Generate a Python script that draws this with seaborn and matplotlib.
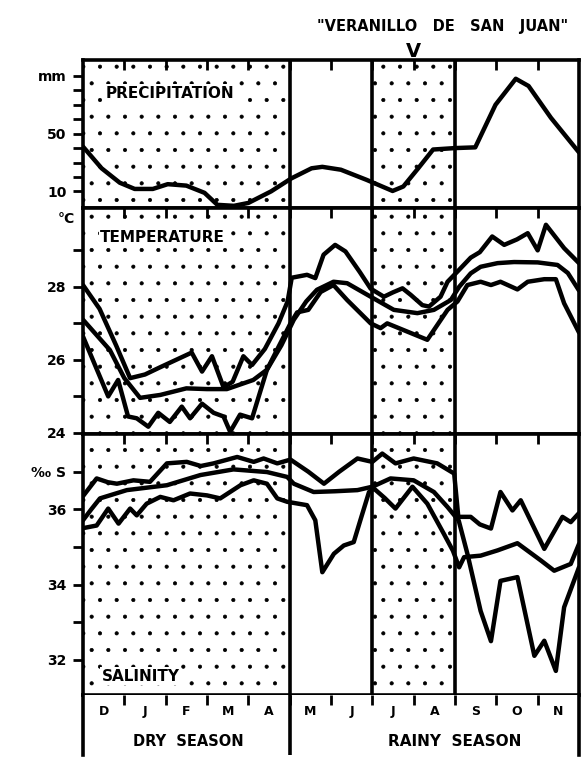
import matplotlib
matplotlib.use("Agg")
import matplotlib.pyplot as plt
import seaborn as sns

# x axis: months counted from the start of December (0) to the end of November (12)
month_letters = ["D", "J", "F", "M", "A", "M", "J", "J", "A", "S", "O", "N"]

# precipitation (mm)
precip_x = [0.0, 0.45, 0.89, 1.25, 1.69, 2.05, 2.5, 2.94, 3.25, 3.65, 4.0, 4.55, 5.04,
            5.53, 5.79, 6.24, 6.86, 7.49, 7.75, 8.11, 8.47, 9.0, 9.49, 9.98, 10.47,
            10.78, 11.32, 12.0]
precip_y = [41, 26, 16, 11.7, 11.7, 15, 14, 9, 0.7, 0, 2, 10, 19,
            26, 27, 25, 18, 10.3, 13.4, 26, 39, 40, 40.5, 70, 88,
            83, 61, 37]

# temperature (deg C)
temp_hi_x = [0.0, 0.4, 0.8, 1.14, 1.5, 1.87, 2.25, 2.63, 2.88, 3.12, 3.4, 3.62, 3.88, 4.09,
             4.4, 4.73, 4.95, 5.05, 5.42, 5.62, 5.82, 6.1, 6.35, 6.7, 6.96, 7.28, 7.5,
             7.73, 7.93, 8.21, 8.37, 8.65, 8.82, 9.06, 9.38, 9.6, 9.9, 10.19, 10.5,
             10.76, 11.0, 11.2, 11.64, 12.0]
temp_hi_y = [28.05, 27.4, 26.4, 25.5, 25.6, 25.8, 26.0, 26.2, 25.68, 26.1, 25.25, 25.4, 26.1, 25.86,
             26.3, 27.0, 27.6, 28.25, 28.33, 28.24, 28.88, 29.15, 28.97, 28.4, 27.95, 27.73, 27.85,
             27.96, 27.78, 27.5, 27.46, 27.73, 28.14, 28.42, 28.8, 28.95, 29.38, 29.15, 29.3,
             29.47, 29.0, 29.7, 29.06, 28.65]

temp_mid_x = [0.0, 0.65, 1.0, 1.38, 1.87, 2.5, 3.0, 3.48, 4.12, 4.45, 4.8, 5.1, 5.4, 5.66,
              6.06, 6.39, 6.96, 7.52, 8.09, 8.49, 8.9, 9.1, 9.38, 9.62, 10.03, 10.43, 11.0,
              11.48, 11.73, 12.0]
temp_mid_y = [27.1, 26.27, 25.5, 24.96, 25.04, 25.22, 25.2, 25.2, 25.45, 25.73, 26.4, 27.1, 27.6, 27.92,
              28.14, 28.1, 27.73, 27.37, 27.28, 27.37, 27.64, 28.0, 28.37, 28.55, 28.65, 28.68, 28.67,
              28.6, 28.38, 27.9]

temp_lo_x = [0.0, 0.61, 0.85, 1.09, 1.3, 1.58, 1.82, 2.1, 2.39, 2.59, 2.88, 3.16, 3.4, 3.56,
             3.8, 4.09, 4.45, 4.75, 5.02, 5.18, 5.45, 5.75, 6.06, 6.39, 6.96, 7.2, 7.36, 8.33,
             8.82, 9.06, 9.3, 9.62, 9.87, 10.1, 10.51, 10.76, 11.16, 11.44, 11.64, 12.0]
temp_lo_y = [26.64, 25.0, 25.45, 24.45, 24.4, 24.17, 24.55, 24.3, 24.72, 24.4, 24.8, 24.55, 24.45, 24.03,
             24.5, 24.4, 25.73, 26.4, 27.0, 27.3, 27.37, 27.86, 28.05, 27.64, 27.0, 26.87, 27.0, 26.55,
             27.37, 27.6, 28.05, 28.14, 28.05, 28.14, 27.93, 28.14, 28.21, 28.21, 27.55, 26.75]

# salinity (per mille)
sal_hi_x = [0.0, 0.33, 0.6, 0.82, 1.22, 1.62, 2.03, 2.51, 2.85, 3.16, 3.73, 4.13, 4.37, 4.7,
            5.02, 5.45, 5.83, 6.2, 6.64, 7.0, 7.24, 7.56, 8.0, 8.57, 8.98, 9.08, 9.38, 9.6,
            9.87, 10.1, 10.39, 10.59, 11.16, 11.6, 11.8, 12.0]
sal_hi_y = [36.35, 36.82, 36.72, 36.68, 36.77, 36.73, 37.22, 37.26, 37.15, 37.22, 37.39, 37.26, 37.35, 37.22,
            37.32, 37.0, 36.68, 37.0, 37.35, 37.26, 37.48, 37.22, 37.35, 37.22, 36.95, 35.8, 35.8, 35.6,
            35.49, 36.46, 35.97, 36.24, 34.95, 35.8, 35.66, 35.9]

sal_mid_x = [0.0, 0.2, 0.41, 1.06, 2.03, 2.84, 3.64, 4.45, 4.94, 5.1, 5.58, 6.1, 6.64, 7.0,
             7.44, 8.0, 8.49, 8.82, 9.09, 9.3, 9.62, 9.87, 10.1, 10.51, 10.92, 11.16, 11.44,
             11.64, 12.0]
sal_mid_y = [35.71, 36.0, 36.29, 36.51, 36.64, 36.91, 37.06, 36.99, 36.86, 36.68, 36.46, 36.48, 36.51, 36.6,
             36.82, 36.77, 36.46, 36.06, 35.7, 34.82, 33.3, 32.5, 34.1, 34.2, 32.11, 32.51, 31.71,
             33.4, 34.46]

sal_lo_x = [0.0, 0.33, 0.61, 0.86, 1.14, 1.3, 1.54, 1.87, 2.19, 2.59, 3.0, 3.32, 3.81, 4.13,
            4.45, 4.7, 4.94, 5.42, 5.62, 5.79, 6.07, 6.31, 6.55, 6.71, 6.92, 7.04, 7.3, 7.56,
            7.97, 8.33, 8.73, 8.95, 9.1, 9.22, 9.62, 10.03, 10.51, 11.08, 11.4, 11.8, 12.0]
sal_lo_y = [35.5, 35.57, 36.02, 35.62, 36.02, 35.84, 36.15, 36.33, 36.24, 36.42, 36.37, 36.29, 36.64, 36.77,
            36.68, 36.29, 36.2, 36.11, 35.71, 34.33, 34.82, 35.04, 35.13, 35.71, 36.46, 36.55, 36.3, 36.02,
            36.6, 36.15, 35.35, 34.9, 34.46, 34.73, 34.77, 34.91, 35.1, 34.64, 34.37, 34.55, 35.08]

sns.set_style("white")
plt.rcParams["font.family"] = ["DejaVu Sans"]
plt.rcParams["text.color"] = "black"
plt.rcParams["xtick.color"] = "black"
plt.rcParams["ytick.color"] = "black"
plt.rcParams["hatch.color"] = "black"
plt.rcParams["hatch.linewidth"] = 0.5

W, H = 581, 757
fig = plt.figure(figsize=(W / 100, H / 100), dpi=100)
left = 83 / W
width = (579 - 83) / W


def panel(top_px, bottom_px):
    return fig.add_axes([left, 1 - bottom_px / H, width, (bottom_px - top_px) / H])


ax_p = panel(60, 208)
ax_t = panel(208, 434)
ax_s = panel(434, 695)
ax_m = panel(695, 755)

LW = 3.2
FRAME = 2.6

for ax in (ax_p, ax_t, ax_s):
    ax.set_xlim(0, 12)
    # stippled: dry season and "veranillo"
    ax.axvspan(0, 5, facecolor="none", edgecolor="black", hatch=".", lw=0, zorder=0)
    ax.axvspan(7, 9, facecolor="none", edgecolor="black", hatch=".", lw=0, zorder=0)
    for xv in (5, 7, 9):
        ax.axvline(xv, color="black", lw=FRAME, zorder=3)
    for sp in ax.spines.values():
        sp.set_linewidth(FRAME)
        sp.set_color("black")
        sp.set_zorder(4)
    ax.set_xticks(range(1, 12))
    ax.tick_params(axis="x", direction="in", top=True, bottom=False,
                   labelbottom=False, length=7, width=2, color="black")
    ax.tick_params(axis="y", direction="out", left=True, right=False,
                   length=7, width=2, pad=5, labelsize=10, color="black", labelcolor="black")

sns.lineplot(x=precip_x, y=precip_y, ax=ax_p, color="black", linewidth=LW,
             sort=False, estimator=None)
for xs, ys in ((temp_hi_x, temp_hi_y), (temp_mid_x, temp_mid_y), (temp_lo_x, temp_lo_y)):
    sns.lineplot(x=xs, y=ys, ax=ax_t, color="black", linewidth=LW, sort=False, estimator=None)
for xs, ys in ((sal_hi_x, sal_hi_y), (sal_mid_x, sal_mid_y), (sal_lo_x, sal_lo_y)):
    sns.lineplot(x=xs, y=ys, ax=ax_s, color="black", linewidth=LW, sort=False, estimator=None)

ax_p.set_ylim(-1.5, 101)
ax_p.set_yticks(range(10, 100, 10))
ax_p.set_yticklabels(["10", "", "", "", "50", "", "", "", "mm"], fontweight="bold")

ax_t.set_ylim(23.97, 30.16)
ax_t.set_yticks(range(24, 30))
ax_t.set_yticklabels(["24", "", "26", "", "28", ""], fontweight="bold")
ax_t.text(-0.2, 29.85, "°C", ha="right", va="center", fontsize=10, fontweight="bold")

ax_s.set_ylim(31.07, 38.0)
ax_s.set_yticks(range(32, 38))
ax_s.set_yticklabels(["32", "", "34", "", "36", "‰ S"], fontweight="bold")

for ax in (ax_p, ax_t, ax_s):
    ax.set_xlabel("")
    ax.set_ylabel("")

box = dict(facecolor="white", edgecolor="none", pad=1)
ax_p.text(0.55, 78, "PRECIPITATION", fontsize=11, fontweight="bold", va="center", bbox=box, zorder=2)
ax_t.text(0.42, 29.35, "TEMPERATURE", fontsize=11, fontweight="bold", va="center", bbox=box, zorder=2)
ax_s.text(0.45, 31.57, "SALINITY", fontsize=11, fontweight="bold", va="center", bbox=box, zorder=2)

# annotation above the top panel
ax_p.text(8.69, 124, '"VERANILLO   DE   SAN   JUAN"', ha="center", va="center",
          fontsize=10.5, fontweight="bold", clip_on=False)
ax_p.text(8.0, 100, "V", ha="center", va="bottom", fontsize=14, fontweight="bold", clip_on=False)

# month / season strip
ax_m.set_xlim(0, 12)
ax_m.set_ylim(0, 1)
ax_m.spines["top"].set_visible(False)
ax_m.spines["bottom"].set_visible(False)
for side in ("left", "right"):
    ax_m.spines[side].set_linewidth(FRAME)
    ax_m.spines[side].set_color("black")
ax_m.axvline(5, color="black", lw=FRAME)
ax_m.set_xticks(range(1, 12))
ax_m.tick_params(axis="x", direction="in", top=True, bottom=False, labelbottom=False,
                 length=7, width=2, color="black")
ax_m.set_yticks([])
for i, letter in enumerate(month_letters):
    ax_m.text(i + 0.5, 0.72, letter, ha="center", va="center", fontsize=9, fontweight="bold")
ax_m.text(2.55, 0.22, "DRY  SEASON", ha="center", va="center", fontsize=10.5, fontweight="bold")
ax_m.text(9.0, 0.22, "RAINY  SEASON", ha="center", va="center", fontsize=11, fontweight="bold")

fig.savefig("out.png", dpi=100)
